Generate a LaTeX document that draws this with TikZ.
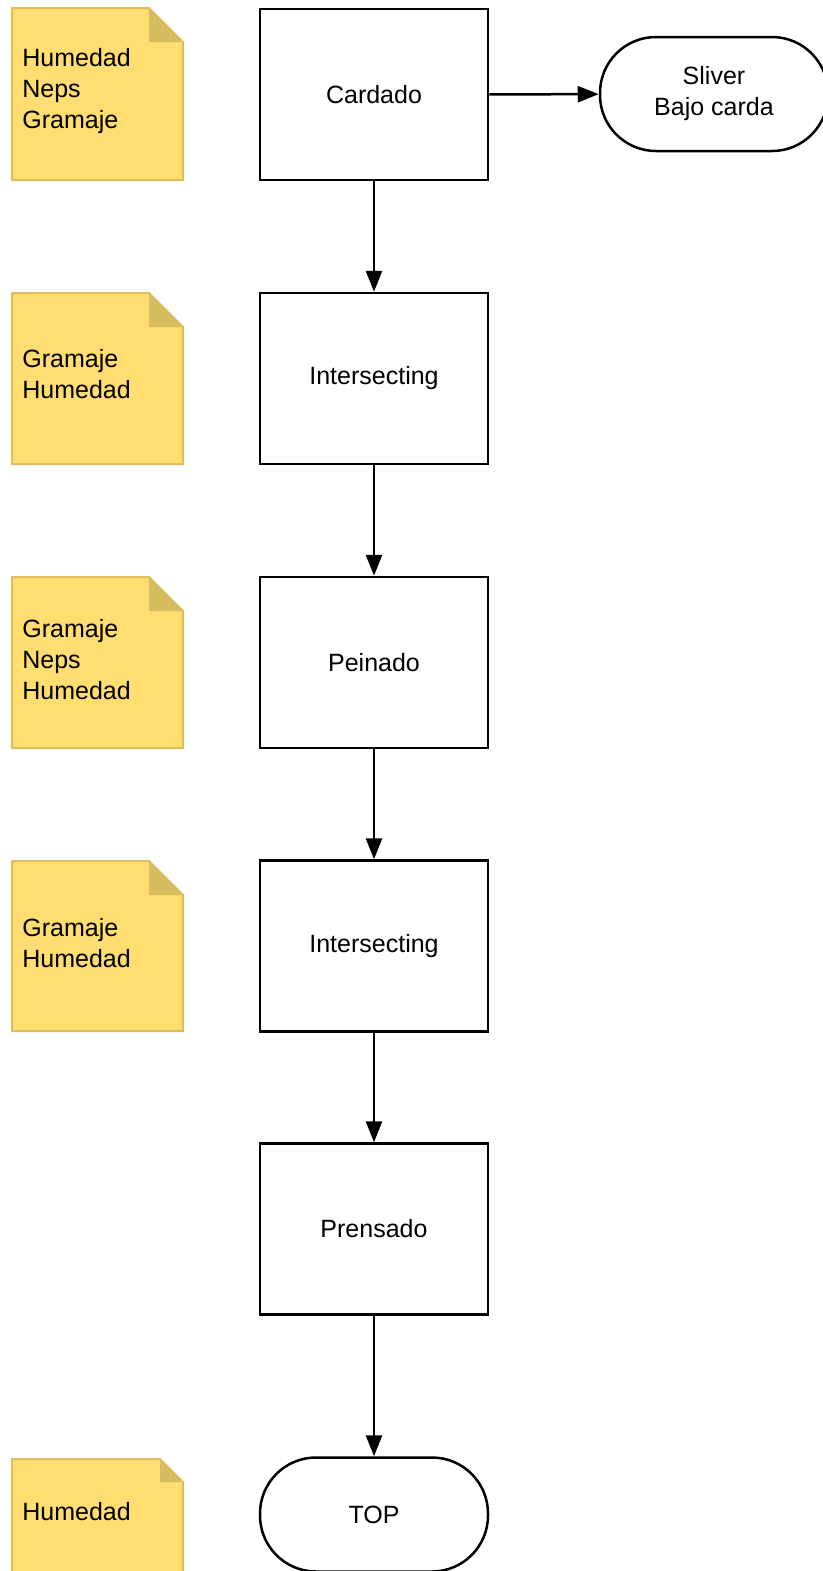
\documentclass[tikz,border=0pt]{standalone}
\usepackage{fontspec}
\setmainfont{Liberation Sans}
\usetikzlibrary{arrows.meta}

\definecolor{notefill}{RGB}{255,221,113}
\definecolor{noteline}{RGB}{222,190,90}
\definecolor{notefold}{RGB}{214,188,94}

\tikzset{
  every node/.style={font=\fontsize{12.5}{15.5}\selectfont},
  proc/.style={draw, line width=1.25pt, minimum width=114pt, minimum height=85.5pt, fill=white},
  term/.style={draw, line width=1.25pt, rounded corners=28pt, minimum width=114pt, minimum height=57pt, fill=white},
  flow/.style={line width=1.25pt, -{Triangle[length=10.5pt,width=8pt]}},
  notetext/.style={anchor=west, align=left, inner sep=0pt}
}

\begin{document}
\begin{tikzpicture}[x=0.5pt, y=-0.5pt]
  \useasboundingbox (0,0) rectangle (823,1571);

  % yellow notes (top, height, fold)
  \foreach \t/\h/\f in {8/172/34, 293/171/34, 577/171/34, 861/170/34, 1459/114/23} {
    \filldraw[fill=notefill, draw=noteline, line width=1pt]
      (12,\t) -- ({183-\f},\t) -- (183,{\t+\f}) -- (183,{\t+\h}) -- (12,{\t+\h}) -- cycle;
    \fill[notefold] ({183-\f},\t) -- ({183-\f},{\t+\f}) -- (183,{\t+\f}) -- cycle;
  }
  \node[notetext] (note1) at (22,91) {Humedad\\Neps\\Gramaje};
  \node[notetext] (note2) at (22,374) {Gramaje\\Humedad};
  \node[notetext] (note3) at (22,660) {Gramaje\\Neps\\Humedad};
  \node[notetext] (note4) at (22,943) {Gramaje\\Humedad};
  \node[notetext] (note5) at (22,1512) {Humedad};

  % process steps
  \node[proc] (card) at (374,94.5) {Cardado};
  \node[proc] (inter1) at (374,378.5) {Intersecting};
  \node[proc] (pein) at (374,662.5) {Peinado};
  \node[proc] (inter2) at (374,946) {Intersecting};
  \node[proc] (prens) at (374,1229) {Prensado};
  \node[term] (top) at (374,1514.5) {TOP};
  \node[term, align=center] (sliver) at (714,94) {Sliver\\Bajo carda};

  % connectors
  \draw[flow] (card) -- (sliver);
  \draw[flow] (card) -- (inter1);
  \draw[flow] (inter1) -- (pein);
  \draw[flow] (pein) -- (inter2);
  \draw[flow] (inter2) -- (prens);
  \draw[flow] (prens) -- (top);
\end{tikzpicture}
\end{document}
